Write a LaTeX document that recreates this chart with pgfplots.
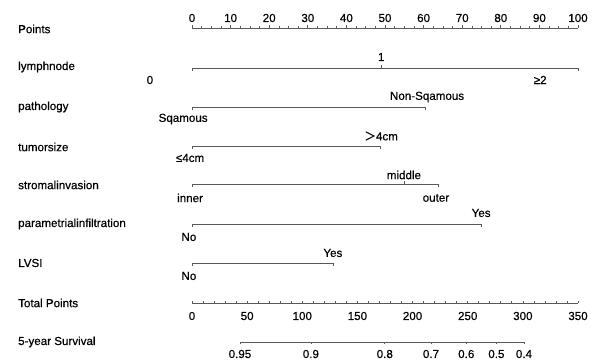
\documentclass[border=0pt]{standalone}
\usepackage{fontspec}
\setmainfont{Liberation Sans}[FakeBold=0.5, AutoFakeBold=0.5]
\newfontfamily\heavy{Liberation Sans}[FakeBold=0.5]
\newfontfamily\cjk{Noto Sans CJK SC}[FakeBold=0.5]
\usepackage{pgfplots}
\pgfplotsset{compat=1.18}
\pgfdeclareplotmark{tup}{\pgfpathmoveto{\pgfpointorigin}\pgfpathlineto{\pgfpoint{0pt}{\pgfplotmarksize}}\pgfusepathqstroke}
\pgfdeclareplotmark{tdown}{\pgfpathmoveto{\pgfpointorigin}\pgfpathlineto{\pgfpoint{0pt}{-\pgfplotmarksize}}\pgfusepathqstroke}
\definecolor{ln}{gray}{0.35}
\begin{document}
\begin{tikzpicture}[every node/.style={font=\heavy\fontsize{11.6}{14}\selectfont, inner sep=0pt}]
\begin{axis}[hide axis, scale only axis, width=600pt, height=363pt,
  xmin=-49.741, xmax=105.699, ymin=0, ymax=363, y dir=reverse, clip=false,
  row/.style={draw=ln, line width=0.7pt, mark=none},
  tu/.style={only marks, mark=tup, mark size=#1, mark options={draw=ln, line width=0.7pt}},
  td/.style={only marks, mark=tdown, mark size=#1, mark options={draw=ln, line width=0.7pt}},
  tp/.style={x filter/.expression={x/3.5}}]
% Points axis
\addplot[row] coordinates {(0,28)(100,28)};
\addplot[tu=3pt] coordinates {(0,28)(10,28)(20,28)(30,28)(40,28)(50,28)(60,28)(70,28)(80,28)(90,28)(100,28)};
\addplot[tu=1.8pt] coordinates {(2.5,28)(5,28)(7.5,28)(12.5,28)(15,28)(17.5,28)(22.5,28)(25,28)(27.5,28)(32.5,28)(35,28)(37.5,28)(42.5,28)(45,28)(47.5,28)(52.5,28)(55,28)(57.5,28)(62.5,28)(65,28)(67.5,28)(72.5,28)(75,28)(77.5,28)(82.5,28)(85,28)(87.5,28)(92.5,28)(95,28)(97.5,28)};
% lymphnode
\addplot[row] coordinates {(0,68)(100,68)};
\addplot[td=3pt] coordinates {(0,68)(100,68)};
\addplot[tu=3pt] coordinates {(49,68)};
% pathology
\addplot[row] coordinates {(0,107)(60.4,107)};
\addplot[td=3pt] coordinates {(0,107)(60.4,107)};
% tumorsize
\addplot[row] coordinates {(0,146)(48.7,146)};
\addplot[td=3pt] coordinates {(0,146)(48.7,146)};
% stromalinvasion
\addplot[row] coordinates {(0,184)(63.7,184)};
\addplot[td=3pt] coordinates {(0,184)(63.7,184)};
\addplot[tu=3pt] coordinates {(54.9,184)};
% parametrialinfiltration
\addplot[row] coordinates {(0,224)(74.9,224)};
\addplot[td=3pt] coordinates {(0,224)(74.9,224)};
% LVSI
\addplot[row] coordinates {(0,263)(36.5,263)};
\addplot[td=3pt] coordinates {(0,263)(36.5,263)};
% Total points
\addplot[row, tp] coordinates {(0,303)(350,303)};
\addplot[tu=2pt, tp] coordinates {(0,303)(10,303)(20,303)(30,303)(40,303)(50,303)(60,303)(70,303)(80,303)(90,303)(100,303)(110,303)(120,303)(130,303)(140,303)(150,303)(160,303)(170,303)(180,303)(190,303)(200,303)(210,303)(220,303)(230,303)(240,303)(250,303)(260,303)(270,303)(280,303)(290,303)(300,303)(310,303)(320,303)(330,303)(340,303)(350,303)};
% 5-year survival (in total points)
\addplot[row, tp] coordinates {(43.5,342)(301,342)};
\addplot[td=2.5pt, tp] coordinates {(43.5,342)(107.8,342)(174.8,342)(216.7,342)(248.7,342)(276,342)(301,342)};

% left labels
\foreach \t/\y in {Points/29, lymphnode/67, pathology/107, tumorsize/147, stromalinvasion/185, parametrialinfiltration/224, LVSI/263, Total Points/303, 5-year Survival/342}
  {\edef\tmp{\noexpand\node[anchor=west] at (axis cs:-45.08,\y) {\t};}\tmp}
% points labels
\foreach \v in {0,10,...,100}
  {\edef\tmp{\noexpand\node at (axis cs:\v,18) {\v};}\tmp}
% total points labels
\foreach \v in {0,50,...,350}
  {\edef\tmp{\noexpand\node at (axis cs:{\v/3.5},316) {\v};}\tmp}
% survival labels
\node at (axis cs:{43.5/3.5},354) {0.95};
\node at (axis cs:{107.8/3.5},354) {0.9};
\node at (axis cs:{174.8/3.5},354) {0.8};
\node at (axis cs:{216.7/3.5},354) {0.7};
\node at (axis cs:{248.7/3.5},354) {0.6};
\node at (axis cs:{276/3.5},354) {0.5};
\node at (axis cs:{301/3.5},354) {0.4};
% variable level labels
\node at (axis cs:49,57) {1};
\node at (axis cs:-10.9,80) {0};
\node at (axis cs:90.2,80) {≥2};
\node at (axis cs:60.9,97) {Non-Sqamous};
\node at (axis cs:-2.3,119) {Sqamous};
\node at (axis cs:49.0,136) {{\cjk ＞}4cm};
\node at (axis cs:-0.5,158) {≤4cm};
\node at (axis cs:54.9,175) {middle};
\node at (axis cs:-0.5,198) {inner};
\node at (axis cs:63.2,198) {outer};
\node at (axis cs:74.9,213) {Yes};
\node at (axis cs:-0.8,237) {No};
\node at (axis cs:36.5,253) {Yes};
\node at (axis cs:-0.8,276) {No};
\end{axis}
\pgfresetboundingbox
\path (current axis.south west) rectangle (current axis.north east);
\end{tikzpicture}
\end{document}
